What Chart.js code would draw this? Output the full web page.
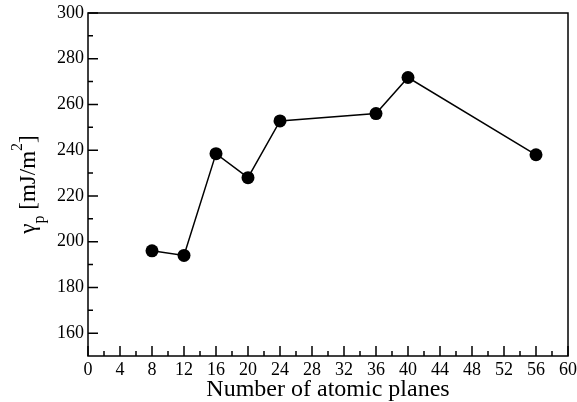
<!DOCTYPE html>
<html>
<head>
<meta charset="utf-8">
<script src="https://cdn.jsdelivr.net/npm/chart.js@4.4.1/dist/chart.umd.min.js"></script>
<style>
  html, body { margin: 0; padding: 0; background: #fff; }
  #wrap { width: 577px; height: 402px; }
  #warm { font-family: "Liberation Serif"; position: absolute; left: -999px; top: 0; }
</style>
</head>
<body>
<div id="warm">0123456789 γ p [mJ/m] Number</div>
<div id="wrap"><canvas id="chart"></canvas></div>
<script>
const planes = [8, 12, 16, 20, 24, 36, 40, 56];
const gammaP = [196, 194, 238.5, 228, 252.8, 256, 271.8, 238];
const xTicks = [0, 4, 8, 12, 16, 20, 24, 28, 32, 36, 40, 44, 48, 52, 56, 60];
const yTicks = [160, 180, 200, 220, 240, 260, 280, 300];
const xMinor = [2, 6, 10, 14, 18, 22, 26, 30, 34, 38, 42, 46, 50, 54, 58];
const yMinor = [170, 190, 210, 230, 250, 270, 290];

const FONT = "'Liberation Serif', 'Times New Roman', serif";
Chart.defaults.font.family = FONT;
Chart.defaults.color = "#000";

// inward ticks, box frame and the y title with sub/superscript
const framePlugin = {
  id: "frame",
  afterDraw(chart) {
    const ctx = chart.ctx;
    const a = chart.chartArea;
    const xs = chart.scales.x, ys = chart.scales.y;
    ctx.save();
    ctx.strokeStyle = "#000";
    ctx.lineWidth = 1.5;
    ctx.strokeRect(a.left, a.top, a.right - a.left, a.bottom - a.top);
    ctx.beginPath();
    xTicks.forEach(v => { const p = xs.getPixelForValue(v); ctx.moveTo(p, a.bottom); ctx.lineTo(p, a.bottom - 10); });
    xMinor.forEach(v => { const p = xs.getPixelForValue(v); ctx.moveTo(p, a.bottom); ctx.lineTo(p, a.bottom - 5); });
    yTicks.forEach(v => { const p = ys.getPixelForValue(v); ctx.moveTo(a.left, p); ctx.lineTo(a.left + 10, p); });
    yMinor.forEach(v => { const p = ys.getPixelForValue(v); ctx.moveTo(a.left, p); ctx.lineTo(a.left + 5, p); });
    ctx.stroke();

    // y axis title
    const parts = [
      { t: "\u03b3", size: 23, dy: 0 },
      { t: "p", size: 16, dy: 9 },
      { t: " [mJ/m", size: 23, dy: 0 },
      { t: "2", size: 16, dy: -13 },
      { t: "]", size: 23, dy: 0 }
    ];
    let total = 0;
    parts.forEach(p => { ctx.font = p.size + "px " + FONT; p.w = ctx.measureText(p.t).width; total += p.w; });
    ctx.translate(35, (a.top + a.bottom) / 2);
    ctx.rotate(-Math.PI / 2);
    ctx.fillStyle = "#000";
    ctx.textBaseline = "alphabetic";
    let x = -total / 2;
    parts.forEach(p => { ctx.font = p.size + "px " + FONT; ctx.fillText(p.t, x, p.dy); x += p.w; });
    ctx.restore();
  }
};

function makeChart() {
  const chart = new Chart(document.getElementById("chart"), {
    type: "line",
    data: {
      datasets: [{
        data: planes.map((n, i) => ({ x: n, y: gammaP[i] })),
        borderColor: "#000",
        borderWidth: 1.5,
        backgroundColor: "#000",
        pointBackgroundColor: "#000",
        pointBorderColor: "#000",
        pointRadius: 6.5,
        pointBorderWidth: 0,
        tension: 0,
        fill: false
      }]
    },
    options: {
      responsive: true,
      maintainAspectRatio: false,
      animation: false,
      layout: { padding: { top: 13, right: 9, left: 0, bottom: 0 } },
      plugins: { legend: { display: false }, tooltip: { enabled: false } },
      scales: {
        x: {
          type: "linear",
          min: 0,
          max: 60,
          afterBuildTicks: s => { s.ticks = xTicks.map(v => ({ value: v })); },
          afterFit: s => { s.height = 46; s.paddingLeft = 0; s.paddingRight = 0; },
          grid: { display: false, drawTicks: false },
          border: { display: false },
          ticks: { color: "#000", padding: 3, maxRotation: 0, font: { family: FONT, size: 18 } },
          title: {
            display: true,
            text: "Number of atomic planes",
            color: "#000",
            padding: { top: 0, bottom: 0 },
            font: { family: FONT, size: 24, lineHeight: 1.0 }
          }
        },
        y: {
          min: 150,
          max: 300,
          afterBuildTicks: s => { s.ticks = yTicks.map(v => ({ value: v })); },
          afterFit: s => { s.width = 88; s.paddingTop = 0; s.paddingBottom = 0; },
          grid: { display: false, drawTicks: false },
          border: { display: false },
          ticks: { color: "#000", padding: 4, font: { family: FONT, size: 18 } }
        }
      }
    },
    plugins: [framePlugin]
  });
  setTimeout(() => chart.update(), 200);
}

document.fonts.load("18px 'Liberation Serif'").then(makeChart, makeChart);
</script>
</body>
</html>
